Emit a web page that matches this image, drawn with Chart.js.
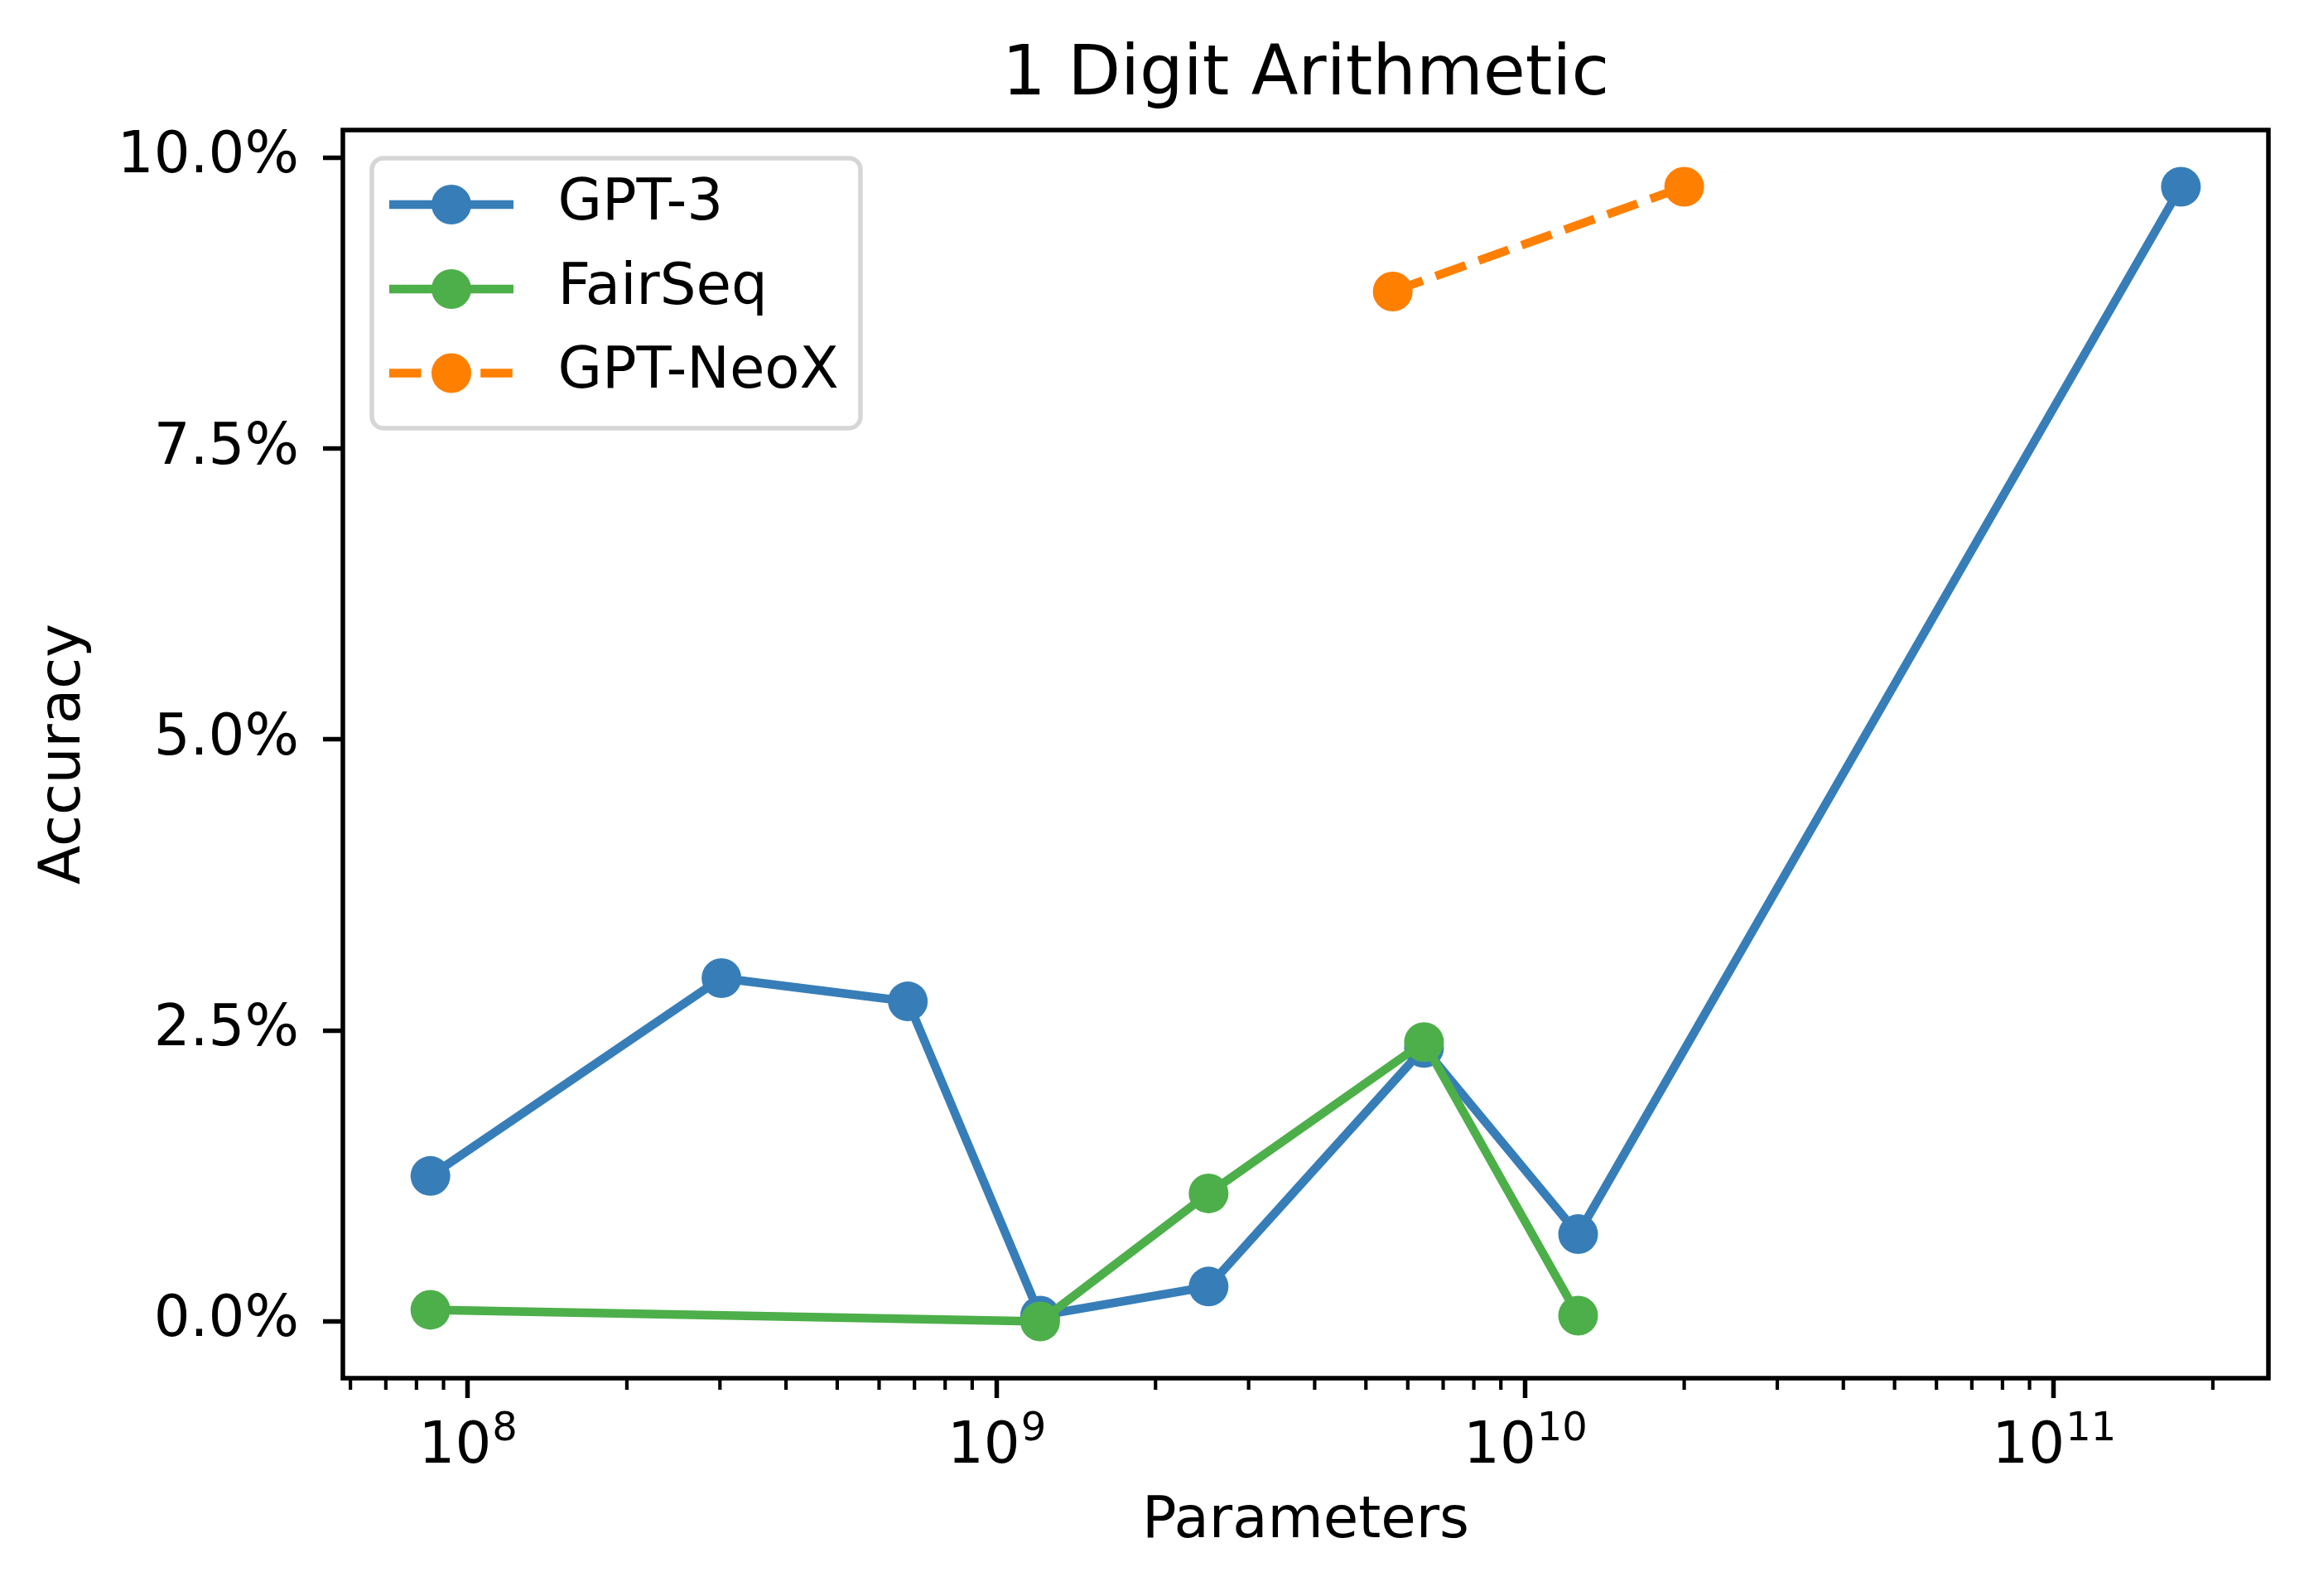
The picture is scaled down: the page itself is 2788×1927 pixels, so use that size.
<!DOCTYPE html>
<html>
<head>
<meta charset="utf-8">
<title>1 Digit Arithmetic</title>
<script src="https://cdn.jsdelivr.net/npm/chart.js@4.4.1/dist/chart.umd.min.js"></script>
<style>
  html, body { margin: 0; padding: 0; background: #fff; }
  canvas { display: block; }
</style>
</head>
<body>
<canvas id="myChart" width="2788" height="1927"></canvas>
<script>
// parameters (non-embedding) and accuracy in percent
const gpt3Params = [8.5e7, 3.02e8, 6.8e8, 1.21e9, 2.52e9, 6.44e9, 1.26e10, 1.74e11];
const gpt3Acc = [1.25, 2.95, 2.75, 0.05, 0.3, 2.35, 0.75, 9.75];

const fairseqParams = [8.5e7, 1.21e9, 2.52e9, 6.44e9, 1.26e10];
const fairseqAcc = [0.1, 0.0, 1.1, 2.4, 0.05];

const neoxParams = [5.62e9, 2.0e10];
const neoxAcc = [8.85, 9.75];

const seriesNames = ['GPT-3', 'FairSeq', 'GPT-NeoX'];
const seriesColors = ['#377eb8', '#4daf4a', '#ff7f00'];

// tick labels
const yTickValues = [0, 2.5, 5, 7.5, 10];
const xTickValues = [1e8, 1e9, 1e10, 1e11];

const chartTitle = '1 Digit Arithmetic';

const FONT = 'DejaVu Sans';
const LW = 10.4;       // 1.5pt lines
const MARKER = 24;     // marker radius

// matplotlib style 5% margins
const allX = gpt3Params.concat(fairseqParams, neoxParams);
const allY = gpt3Acc.concat(fairseqAcc, neoxAcc);
const lxMin = Math.log10(Math.min(...allX));
const lxMax = Math.log10(Math.max(...allX));
const xPad = (lxMax - lxMin) * 0.05;
const xMin = Math.pow(10, lxMin - xPad);
const xMax = Math.pow(10, lxMax + xPad);
const yLo = Math.min(...allY), yHi = Math.max(...allY);
const yPad = (yHi - yLo) * 0.05;

const pairs = (xs, ys) => xs.map((x, i) => ({x: x, y: ys[i]}));

const makeSet = (i, xs, ys, dash) => ({
    label: seriesNames[i],
    data: pairs(xs, ys),
    borderColor: seriesColors[i],
    backgroundColor: seriesColors[i],
    pointBackgroundColor: seriesColors[i],
    pointBorderWidth: 0,
    pointRadius: MARKER,
    borderWidth: LW,
    borderDash: dash,
    tension: 0,
    order: 3 - i
});

// title over the axes, frame, minor ticks, x tick labels with exponents, legend
const decorations = {
    id: 'decorations',
    afterDraw(chart) {
        const ctx = chart.ctx;
        const area = chart.chartArea;
        const xs = chart.scales.x;
        ctx.save();

        // title centred on the axes box
        ctx.fillStyle = '#000';
        ctx.font = '83px "' + FONT + '"';
        ctx.textAlign = 'center';
        ctx.textBaseline = 'alphabetic';
        ctx.fillText(chartTitle, (area.left + area.right) / 2, area.top - 43);

        // spines
        ctx.strokeStyle = '#000';
        ctx.lineWidth = 5.5;
        ctx.strokeRect(area.left, area.top, area.right - area.left, area.bottom - area.top);

        // minor log ticks
        ctx.lineWidth = 4.2;
        for (let e = Math.floor(Math.log10(xMin)); e <= Math.ceil(Math.log10(xMax)); e++) {
            for (let m = 2; m <= 9; m++) {
                const v = m * Math.pow(10, e);
                if (v < xMin || v > xMax) continue;
                const px = xs.getPixelForValue(v);
                ctx.beginPath();
                ctx.moveTo(px, area.bottom);
                ctx.lineTo(px, area.bottom + 14);
                ctx.stroke();
            }
        }

        // x tick labels 10^n
        ctx.textAlign = 'left';
        xTickValues.forEach(v => {
            const px = xs.getPixelForValue(v);
            const exp = String(Math.round(Math.log10(v)));
            ctx.font = '69px "' + FONT + '"';
            const wb = ctx.measureText('10').width;
            ctx.font = '48px "' + FONT + '"';
            const we = ctx.measureText(exp).width;
            const x0 = px - (wb + we) / 2;
            ctx.font = '69px "' + FONT + '"';
            ctx.fillText('10', x0, area.bottom + 101.5);
            ctx.font = '48px "' + FONT + '"';
            ctx.fillText(exp, x0 + wb + 1, area.bottom + 75);
        });

        // legend
        const lx = 449, ly = 191, lw = 590, lh = 326;
        ctx.beginPath();
        ctx.roundRect(lx, ly, lw, lh, 14);
        ctx.fillStyle = 'rgba(255,255,255,0.8)';
        ctx.fill();
        ctx.strokeStyle = 'rgba(204,204,204,0.8)';
        ctx.lineWidth = 5.5;
        ctx.stroke();

        const rows = [247, 349, 450.5];
        chart.data.datasets.forEach((ds, i) => {
            const y = rows[i];
            ctx.strokeStyle = ds.borderColor;
            ctx.lineWidth = LW;
            ctx.setLineDash(ds.borderDash || []);
            ctx.beginPath();
            ctx.moveTo(470, y);
            ctx.lineTo(620, y);
            ctx.stroke();
            ctx.setLineDash([]);
            ctx.fillStyle = ds.pointBackgroundColor;
            ctx.beginPath();
            ctx.arc(545, y, MARKER, 0, Math.PI * 2);
            ctx.fill();
            ctx.fillStyle = '#000';
            ctx.font = '69px "' + FONT + '"';
            ctx.textBaseline = 'middle';
            ctx.fillText(ds.label, 673.5, y);
        });

        ctx.restore();
    }
};

Chart.defaults.font.family = FONT;
Chart.defaults.color = '#000';

const ctx = document.getElementById('myChart');

const myChart = new Chart(ctx, {
    type: 'line',
    data: {
        datasets: [
            makeSet(0, gpt3Params, gpt3Acc, []),
            makeSet(1, fairseqParams, fairseqAcc, []),
            makeSet(2, neoxParams, neoxAcc, [38.5, 16.6])
        ]
    },
    options: {
        responsive: false,
        devicePixelRatio: 1,
        animation: false,
        events: [],
        layout: {padding: {top: 157, left: 0, right: 49, bottom: 0}},
        plugins: {
            legend: {display: false},
            tooltip: {enabled: false},
            title: {display: false}
        },
        scales: {
            x: {
                type: 'logarithmic',
                min: xMin,
                max: xMax,
                afterBuildTicks: (s) => { s.ticks = xTickValues.map(v => ({value: v, major: true})); },
                afterFit: (s) => { s.height = 263; },
                ticks: {display: false, autoSkip: false},
                grid: {drawOnChartArea: false, drawTicks: true, tickLength: 24, tickWidth: 5.5, tickColor: '#000'},
                border: {display: false},
                title: {
                    display: true,
                    text: 'Parameters',
                    font: {size: 69},
                    padding: {top: 0, bottom: 47.6}
                }
            },
            y: {
                type: 'linear',
                min: yLo - yPad,
                max: yHi + yPad,
                afterBuildTicks: (s) => { s.ticks = yTickValues.map(v => ({value: v})); },
                afterFit: (s) => { s.width = 414; },
                ticks: {
                    font: {size: 69},
                    padding: 29,
                    autoSkip: false,
                    callback: (v) => Number(v).toFixed(1) + '%'
                },
                grid: {drawOnChartArea: false, drawTicks: true, tickLength: 24, tickWidth: 5.5, tickColor: '#000'},
                border: {display: false},
                title: {
                    display: true,
                    text: 'Accuracy',
                    font: {size: 69},
                    padding: {top: 37, bottom: 0}
                }
            }
        }
    },
    plugins: [decorations]
});
</script>
</body>
</html>
